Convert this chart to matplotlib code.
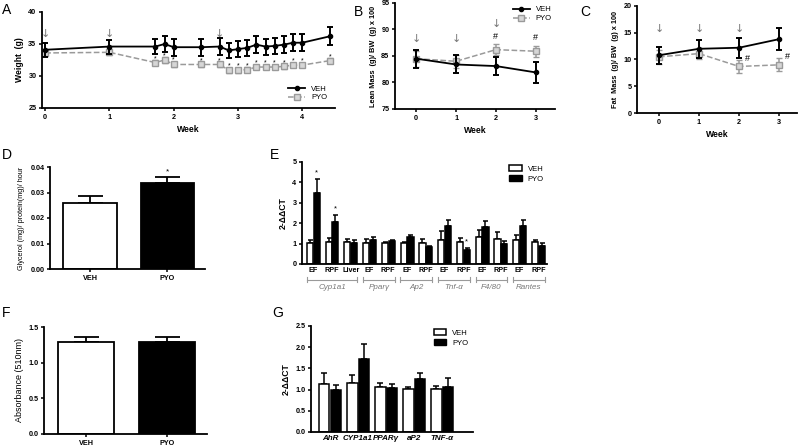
import matplotlib
matplotlib.use("Agg")
import matplotlib.pyplot as plt
from matplotlib.lines import Line2D
from matplotlib.patches import Patch
import numpy as np

plt.rcParams['font.family'] = ['Liberation Sans', 'DejaVu Sans']

# ---- data ----
# A: body weight over time
a_weeks = [0, 1, 1.714, 1.857, 2, 2.429, 2.714, 2.857, 3, 3.143, 3.286, 3.429, 3.571, 3.714, 3.857, 4, 4.429]
a_veh = [34.1, 34.6, 34.6, 35.0, 34.5, 34.5, 34.6, 34.0, 34.2, 34.4, 34.9, 34.6, 34.7, 34.9, 35.2, 35.2, 36.2]
a_veh_err = [1.1, 1.1, 1.2, 1.25, 1.3, 1.3, 1.3, 1.2, 1.3, 1.3, 1.35, 1.25, 1.3, 1.35, 1.35, 1.35, 1.4]
a_pyo = [33.6, 33.7, 32.1, 32.5, 31.8, 31.8, 31.8, 30.9, 30.9, 31.0, 31.4, 31.4, 31.4, 31.5, 31.7, 31.7, 32.4]
a_pyo_err = [0.4, 0.4, 0.4, 0.4, 0.4, 0.35, 0.35, 0.4, 0.4, 0.4, 0.35, 0.35, 0.35, 0.35, 0.35, 0.35, 0.4]
a_star = [False, False] + [True] * 15
a_arrows = [0, 1, 2.714]

# B: lean mass
b_weeks = [0, 1, 2, 3]
b_veh = [84.5, 83.4, 83.1, 81.9]
b_veh_err = [1.7, 1.7, 1.7, 2.0]
b_pyo = [84.5, 84.0, 86.2, 85.9]
b_pyo_err = [1.5, 1.2, 1.0, 1.0]
b_hash = [2, 3]
b_arrows = [0, 1, 2]

# C: fat mass
c_weeks = [0, 1, 2, 3]
c_veh = [10.8, 12.0, 12.2, 13.8]
c_veh_err = [1.6, 1.7, 1.9, 2.0]
c_pyo = [10.5, 11.1, 8.7, 9.0]
c_pyo_err = [1.3, 1.0, 1.2, 1.2]
c_hash = [2, 3]
c_arrows = [0, 1, 2]

# D: glycerol release
d_labels = ['VEH', 'PYO']
d_vals = [0.0258, 0.0338]
d_err = [0.0028, 0.0022]

# E: gene expression in tissues
e_tissues = ['EF', 'RPF', 'Liver', 'EF', 'RPF', 'EF', 'RPF', 'EF', 'RPF', 'EF', 'RPF', 'EF', 'RPF']
e_veh = [1.02, 1.08, 1.07, 1.05, 1.03, 1.02, 1.05, 1.18, 1.08, 1.31, 1.25, 1.16, 1.07]
e_veh_err = [0.18, 0.2, 0.16, 0.18, 0.07, 0.06, 0.18, 0.43, 0.2, 0.38, 0.32, 0.28, 0.13]
e_pyo = [3.46, 2.07, 1.03, 1.16, 1.11, 1.31, 0.84, 1.85, 0.70, 1.82, 1.0, 1.85, 0.9]
e_pyo_err = [0.72, 0.31, 0.13, 0.17, 0.08, 0.13, 0.06, 0.33, 0.08, 0.28, 0.11, 0.3, 0.13]
e_star = [0, 1, 8]
e_genes = ['Cyp1a1', 'Ppar\u03b3', 'Ap2', 'Tnf-\u03b1', 'F4/80', 'Rantes']
e_gene_span = [(0, 2), (3, 4), (5, 6), (7, 8), (9, 10), (11, 12)]

# F: absorbance
f_labels = ['VEH', 'PYO']
f_vals = [1.29, 1.29]
f_err = [0.07, 0.07]

# G: gene expression
g_genes = ['AhR', 'CYP1a1', 'PPAR\u03b3', 'aP2', 'TNF-\u03b1']
g_veh = [1.14, 1.16, 1.05, 1.01, 1.02]
g_veh_err = [0.25, 0.18, 0.11, 0.04, 0.06]
g_pyo = [0.99, 1.72, 1.04, 1.26, 1.05]
g_pyo_err = [0.12, 0.35, 0.09, 0.13, 0.23]

W, H = 800, 445
fig = plt.figure(figsize=(8, 4.45), dpi=100)

GRAY = '#9a9a9a'
TICK = 5.2
LAB = 6.2


def box(l, t, r, b):
    return fig.add_axes([l / W, (H - b) / H, (r - l) / W, (b - t) / H])


def prism(ax):
    for s in ['top', 'right']:
        ax.spines[s].set_visible(False)
    for s in ['left', 'bottom']:
        ax.spines[s].set_linewidth(1.3)
    ax.tick_params(width=1.1, length=2.5, labelsize=TICK, pad=1.5)
    for lab in ax.get_xticklabels() + ax.get_yticklabels():
        lab.set_fontweight('bold')


def letter(x, y, s):
    fig.text(x / W, 1 - y / H, s, fontsize=10, ha='left', va='center')


def lines(ax, x, veh, veh_err, pyo, pyo_err):
    ax.errorbar(x, pyo, yerr=pyo_err, color=GRAY, ls='--', lw=1.1, marker='s', ms=4,
                mfc='#d6d6d6', mec=GRAY, mew=1.0, capsize=2, elinewidth=1.1, capthick=1.1, zorder=2)
    ax.errorbar(x, veh, yerr=veh_err, color='black', ls='-', lw=1.3, marker='o', ms=3,
                capsize=2, elinewidth=1.4, capthick=1.4, zorder=3)


def arrow(ax, x, y):
    ax.text(x, y, '\u2193', color='#777777', fontsize=8, ha='center', va='center',
            family=['DejaVu Sans'])


legend_handles = [
    Line2D([], [], color='black', lw=1.3, marker='o', ms=3),
    Line2D([], [], color=GRAY, lw=1.1, ls='--', marker='s', ms=4, mfc='#d6d6d6', mec=GRAY),
]

# ---- A ----
ax = box(42, 12, 335, 108)
lines(ax, a_weeks, a_veh, a_veh_err, a_pyo, a_pyo_err)
for x, y, e, s in zip(a_weeks, a_pyo, a_pyo_err, a_star):
    if s:
        ax.text(x, y + e + 0.25, '*', fontsize=5, ha='center', va='center')
for x in a_arrows:
    arrow(ax, x, 36.6)
ax.set_ylim(25, 40)
ax.set_yticks([25, 30, 35, 40])
ax.set_xlim(-0.05, 4.51)
ax.set_xticks([0, 1, 2, 3, 4])
ax.set_ylabel('Weight  (g)', fontsize=LAB, fontweight='bold', labelpad=3)
ax.set_xlabel('Week', fontsize=LAB, fontweight='bold', labelpad=3)
prism(ax)
ax.legend(legend_handles, ['VEH', 'PYO'], loc='lower right', frameon=False, fontsize=5.5,
          handlelength=2.2, labelspacing=0.2, borderaxespad=0.2, bbox_to_anchor=(0.99, 0.02))
letter(2, 10, 'A')

# ---- B ----
ax = box(395, 3, 555, 109)
lines(ax, b_weeks, b_veh, b_veh_err, b_pyo, b_pyo_err)
for i in b_hash:
    ax.text(b_weeks[i], b_pyo[i] + b_pyo_err[i] + 1.5, '#', fontsize=6.5, ha='center', va='center')
for i in b_arrows:
    arrow(ax, b_weeks[i], 91.0 if i == 2 else 88.2)
ax.set_ylim(75, 95)
ax.set_yticks([75, 80, 85, 90, 95])
ax.set_xlim(-0.53, 3.48)
ax.set_xticks(b_weeks)
ax.set_ylabel('Lean Mass  (g)/ BW  (g) x 100', fontsize=5.3, fontweight='bold', labelpad=3)
ax.set_xlabel('Week', fontsize=LAB, fontweight='bold', labelpad=3)
prism(ax)
ax.legend(legend_handles, ['VEH', 'PYO'], loc='upper right', frameon=False, fontsize=5.5,
          handlelength=2.2, labelspacing=0.2, borderaxespad=0.0, bbox_to_anchor=(1.0, 1.0))
letter(354, 12, 'B')

# ---- C ----
ax = box(637, 6, 797, 113)
lines(ax, c_weeks, c_veh, c_veh_err, c_pyo, c_pyo_err)
for i in c_hash:
    ax.text(c_weeks[i] + 0.22, c_pyo[i] + 1.5, '#', fontsize=6.5, ha='center', va='center')
for i in c_arrows:
    arrow(ax, c_weeks[i], 15.7)
ax.set_ylim(0, 20)
ax.set_yticks([0, 5, 10, 15, 20])
ax.set_xlim(-0.55, 3.45)
ax.set_xticks(c_weeks)
ax.set_ylabel('Fat  Mass  (g)/ BW  (g) x 100', fontsize=5.3, fontweight='bold', labelpad=3)
ax.set_xlabel('Week', fontsize=LAB, fontweight='bold', labelpad=3)
prism(ax)
letter(580, 12, 'C')


def two_bars(ax, labels, vals, err):
    x = np.arange(len(vals))
    ax.bar(x, vals, width=0.69, color=['white', 'black'], edgecolor='black', linewidth=1.3, zorder=2)
    ax.errorbar(x, vals, yerr=[np.zeros(len(err)), err], fmt='none', ecolor='black',
                elinewidth=1.3, capsize=9, capthick=1.3, zorder=1)
    ax.set_xticks(x)
    ax.set_xticklabels(labels)
    ax.set_xlim(-0.52, 1.49)


# ---- D ----
ax = box(50, 167, 205, 269)
two_bars(ax, d_labels, d_vals, d_err)
ax.text(1, d_vals[1] + d_err[1] + 0.0022, '*', fontsize=6, ha='center', va='center')
ax.set_ylim(0, 0.04)
ax.set_yticks([0, 0.01, 0.02, 0.03, 0.04])
ax.set_yticklabels(['0.00', '0.01', '0.02', '0.03', '0.04'])
ax.set_ylabel('Glycerol (mg)/ protein(mg)/ hour', fontsize=5.2, labelpad=4)
prism(ax)
letter(2, 155, 'D')

# ---- E ----
ax = box(302, 162, 547, 264)
xe = np.arange(len(e_tissues))
bw = 0.33
ax.bar(xe - 0.18, e_veh, width=bw, color='white', edgecolor='black', linewidth=1.1, zorder=2)
ax.bar(xe + 0.18, e_pyo, width=bw, color='black', edgecolor='black', linewidth=1.1, zorder=2)
ax.errorbar(xe - 0.18, e_veh, yerr=[np.zeros(len(e_veh)), e_veh_err], fmt='none', ecolor='black',
            elinewidth=1.1, capsize=1.8, capthick=1.1, zorder=1)
ax.errorbar(xe + 0.18, e_pyo, yerr=[np.zeros(len(e_pyo)), e_pyo_err], fmt='none', ecolor='black',
            elinewidth=1.1, capsize=1.8, capthick=1.1, zorder=1)
for i in e_star:
    ax.text(xe[i] + 0.18, e_pyo[i] + e_pyo_err[i] + 0.3, '*', fontsize=5.5, ha='center', va='center')
ax.set_xticks(xe)
ax.set_xticklabels(e_tissues)
ax.set_xlim(-0.6, 12.46)
ax.set_ylim(0, 5)
ax.set_yticks([0, 1, 2, 3, 4, 5])
ax.set_ylabel('2-\u0394\u0394CT', fontsize=LAB, fontweight='bold', labelpad=3)
prism(ax)
ax.tick_params(axis='x', length=0, pad=2)
tr = ax.get_xaxis_transform()
for g, (i0, i1) in zip(e_genes, e_gene_span):
    y0 = -0.155
    ax.plot([i0 - 0.35, i1 + 0.35], [y0, y0], color=GRAY, lw=0.8, transform=tr, clip_on=False)
    for xx in (i0 - 0.35, i1 + 0.35):
        ax.plot([xx, xx], [y0 - 0.025, y0 + 0.025], color=GRAY, lw=0.8, transform=tr, clip_on=False)
    ax.text((i0 + i1) / 2, -0.235, g, transform=tr, fontsize=5.8, style='italic', color='#777777',
            ha='center', va='center')
ax.legend([Patch(facecolor='white', edgecolor='black', lw=1.1), Patch(facecolor='black', edgecolor='black')],
          ['VEH', 'PYO'], loc='upper right', frameon=False, fontsize=5.5, handlelength=1.6,
          handleheight=0.9, labelspacing=0.3, borderaxespad=0.0, bbox_to_anchor=(1.0, 1.0))
letter(270, 155, 'E')

# ---- F ----
ax = box(44, 327, 207, 434)
two_bars(ax, f_labels, f_vals, f_err)
ax.set_ylim(0, 1.5)
ax.set_yticks([0, 0.5, 1.0, 1.5])
ax.set_ylabel('Absorbance (510nm)', fontsize=6.5, labelpad=3)
prism(ax)
letter(2, 313, 'F')

# ---- G ----
ax = box(311, 326, 473, 432)
xg = np.arange(len(g_genes))
bw = 0.38
ax.bar(xg - 0.21, g_veh, width=bw, color='white', edgecolor='black', linewidth=1.1, zorder=2)
ax.bar(xg + 0.21, g_pyo, width=bw, color='black', edgecolor='black', linewidth=1.1, zorder=2)
ax.errorbar(xg - 0.21, g_veh, yerr=[np.zeros(len(g_veh)), g_veh_err], fmt='none', ecolor='black',
            elinewidth=1.1, capsize=2, capthick=1.1, zorder=1)
ax.errorbar(xg + 0.21, g_pyo, yerr=[np.zeros(len(g_pyo)), g_pyo_err], fmt='none', ecolor='black',
            elinewidth=1.1, capsize=2, capthick=1.1, zorder=1)
ax.set_xticks(xg)
ax.set_xticklabels(g_genes)
ax.set_xlim(-0.68, 5.1)
ax.set_ylim(0, 2.5)
ax.set_yticks([0, 0.5, 1.0, 1.5, 2.0, 2.5])
ax.set_ylabel('2-\u0394\u0394CT', fontsize=LAB, fontweight='bold', labelpad=3)
prism(ax)
ax.tick_params(axis='x', length=0, pad=2)
for lab in ax.get_xticklabels():
    lab.set_fontstyle('italic')
    lab.set_fontsize(5.8)
ax.legend([Patch(facecolor='white', edgecolor='black', lw=1.1), Patch(facecolor='black', edgecolor='black')],
          ['VEH', 'PYO'], loc='upper left', frameon=False, fontsize=5.5, handlelength=1.6,
          handleheight=0.9, labelspacing=0.3, borderaxespad=0.0, bbox_to_anchor=(0.74, 1.0))
letter(272, 313, 'G')

fig.savefig('out.png', dpi=100)
